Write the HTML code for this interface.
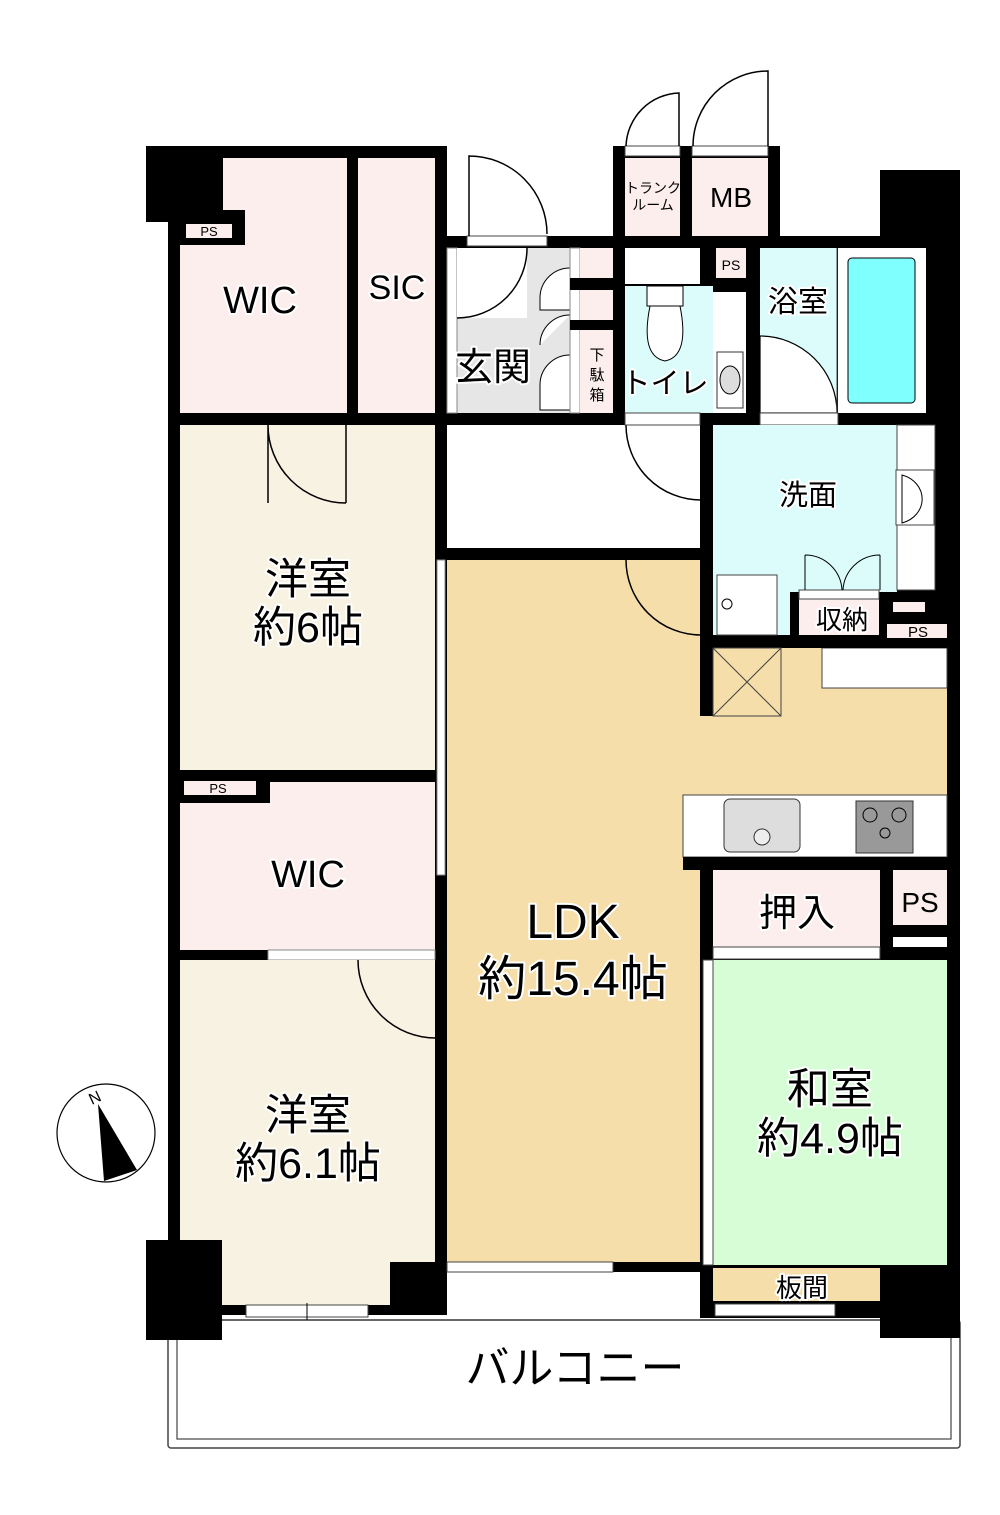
<!DOCTYPE html>
<html><head><meta charset="utf-8"><style>
html,body{margin:0;padding:0;background:#fff}
svg{display:block}
text{font-family:"Liberation Sans","Noto Sans CJK JP",sans-serif;fill:#000;paint-order:stroke;stroke:#fff;stroke-width:4px;stroke-linejoin:round}
.t{stroke:none}
</style></head><body>
<svg width="1000" height="1515" viewBox="0 0 1000 1515" xmlns="http://www.w3.org/2000/svg">
<!-- balcony -->
<rect x="168" y="1320" width="792" height="128" fill="#fff" stroke="#444" stroke-width="1.5" rx="3"/>
<rect x="177" y="1320" width="774" height="119" fill="none" stroke="#444" stroke-width="1.2"/>
<!-- footprint -->
<polygon fill="#000" points="146,146 447,146 447,236 613,236 613,146 780,146 780,236 880,236 880,170 960,170 960,1338 880,1338 880,1318 700,1318 700,1272 447,1272 447,1315 222,1315 222,1340 146,1340 146,1240 168,1240 168,222 146,222"/>
<!-- WIC1 -->
<rect x="180" y="158" width="167" height="255" fill="#fdeeee"/>
<rect x="180" y="158" width="43" height="52" fill="#000"/>
<rect x="180" y="210" width="65" height="35" fill="#000"/>
<rect x="186" y="224" width="46" height="14" fill="#fdeeee"/>
<text class="t" x="209" y="236" font-size="13" text-anchor="middle">PS</text>
<text x="260" y="313" font-size="38" text-anchor="middle">WIC</text>
<!-- SIC -->
<rect x="358" y="158" width="77" height="255" fill="#fdeeee"/>
<text x="397" y="299" font-size="34" text-anchor="middle">SIC</text>
<!-- 洋室1 -->
<rect x="180" y="425" width="255" height="345" fill="#f8f2e2"/>
<path d="M268 425 v78 M268 425 a78 78 0 0 0 78 78 M346 425 v78" fill="none" stroke="#000" stroke-width="1.5"/>
<text x="308" y="594" font-size="43" text-anchor="middle">洋室</text>
<text x="308" y="642" font-size="43" text-anchor="middle">約6帖</text>
<rect x="437" y="560" width="8" height="315" fill="#fff" stroke="#888" stroke-width="1"/>
<!-- WIC2 -->
<rect x="180" y="782" width="255" height="168" fill="#fdeeee"/>
<rect x="180" y="775" width="90" height="28" fill="#000"/>
<rect x="184" y="781" width="72" height="14" fill="#fdeeee"/>
<text class="t" x="218" y="793" font-size="13" text-anchor="middle">PS</text>
<text x="308" y="887" font-size="38" text-anchor="middle">WIC</text>
<rect x="268" y="950" width="167" height="10" fill="#fff" stroke="#888"/>
<!-- 洋室2 -->
<polygon fill="#f8f2e2" points="180,960 435,960 435,1262 390,1262 390,1305 222,1305 222,1240 180,1240"/>
<path d="M358 960 a78 78 0 0 0 78 78 M436 960 v78" fill="none" stroke="#000" stroke-width="1.5"/>
<text x="308" y="1130" font-size="43" text-anchor="middle">洋室</text>
<text x="308" y="1178" font-size="43" text-anchor="middle">約6.1帖</text>
<rect x="246" y="1305" width="122" height="12" fill="#fff" stroke="#444"/>
<line x1="307" y1="1303" x2="307" y2="1320" stroke="#000"/>
<!-- LDK -->
<polygon fill="#f5deaa" points="447,560 700,560 700,648 947,648 947,795 683,795 683,857 700,857 700,1262 447,1262"/>
<rect x="700" y="648" width="13" height="68" fill="#000"/>
<rect x="713" y="648" width="68" height="68" fill="none" stroke="#444"/>
<path d="M713 648 L781 716 M781 648 L713 716" stroke="#444"/>
<rect x="822" y="648" width="125" height="40" fill="#fff" stroke="#444"/>
<path d="M626 560 a75 75 0 0 0 75 75" fill="none" stroke="#000" stroke-width="1.5"/>
<text x="573" y="938" font-size="48" text-anchor="middle">LDK</text>
<text x="573" y="995" font-size="48" text-anchor="middle">約15.4帖</text>
<rect x="447" y="1262" width="166" height="10" fill="#fff" stroke="#444"/>
<!-- kitchen -->
<rect x="683" y="795" width="264" height="62" fill="#fff" stroke="#444"/>
<rect x="724" y="799" width="76" height="53" rx="6" fill="#ddd" stroke="#333"/>
<circle cx="762" cy="837" r="8" fill="#eee" stroke="#333"/>
<rect x="856" y="801" width="57" height="52" fill="#999" stroke="#333"/>
<circle cx="870" cy="815" r="7" fill="none" stroke="#000"/><circle cx="899" cy="815" r="7" fill="none" stroke="#000"/><circle cx="885" cy="833" r="5" fill="none" stroke="#000"/>
<rect x="683" y="857" width="264" height="13" fill="#000"/>
<!-- 押入 PS -->
<rect x="713" y="870" width="167" height="80" fill="#fdeeee"/>
<rect x="713" y="947" width="167" height="12" fill="#fff" stroke="#444"/>
<text x="797" y="926" font-size="38" text-anchor="middle">押入</text>
<rect x="893" y="870" width="54" height="55" fill="#fdeeee"/>
<rect x="893" y="937" width="54" height="10" fill="#fff"/>
<text class="t" x="920" y="912" font-size="28" text-anchor="middle">PS</text>
<!-- 和室 -->
<rect x="713" y="960" width="234" height="305" fill="#d6fdd6"/>
<rect x="703" y="960" width="10" height="305" fill="#fff" stroke="#444"/>
<text x="830" y="1104" font-size="43" text-anchor="middle">和室</text>
<text x="830" y="1153" font-size="43" text-anchor="middle">約4.9帖</text>
<rect x="713" y="1268" width="167" height="33" fill="#f5deaa"/>
<text x="802" y="1297" font-size="26" text-anchor="middle">板間</text>
<rect x="715" y="1304" width="120" height="12" fill="#fff" stroke="#444"/>
<!-- corridor -->
<rect x="447" y="425" width="253" height="123" fill="#fff"/>
<path d="M626 425 a75 75 0 0 0 75 75" fill="none" stroke="#000" stroke-width="1.5"/>
<rect x="700" y="425" width="13" height="223" fill="#000"/>
<!-- entrance -->
<rect x="447" y="248" width="123" height="165" fill="#e6e6e6"/>
<rect x="447" y="248" width="10" height="165" fill="#fff" stroke="#888"/>
<rect x="457" y="248" width="70" height="70" fill="#fff"/>
<path d="M527 248 a70 70 0 0 1 -70 70" fill="none" stroke="#000" stroke-width="1.5"/>
<path d="M570 268 a30 30 0 0 0 -30 30 v12 h30 M570 315 a30 30 0 0 0 -30 30 M570 355 a30 30 0 0 0 -30 30 v25 h30" fill="#fff" stroke="#000" stroke-width="1"/>
<rect x="570" y="248" width="10" height="165" fill="#fff" stroke="#888"/>
<rect x="580" y="248" width="33" height="30" fill="#fdeeee"/>
<rect x="580" y="290" width="33" height="30" fill="#fdeeee"/>
<rect x="580" y="330" width="33" height="83" fill="#fdeeee"/>
<rect x="570" y="278" width="43" height="12" fill="#000"/>
<rect x="570" y="320" width="43" height="10" fill="#000"/>
<text x="493" y="380" font-size="38" text-anchor="middle">玄関</text>
<text class="t" x="597" y="360" font-size="15" text-anchor="middle">下</text>
<text class="t" x="597" y="380" font-size="15" text-anchor="middle">駄</text>
<text class="t" x="597" y="400" font-size="15" text-anchor="middle">箱</text>
<rect x="467" y="236" width="80" height="10" fill="#fff" stroke="#444"/>
<path d="M469 236 v-80 a78 78 0 0 1 78 78" fill="none" stroke="#000" stroke-width="1.5"/>
<rect x="580" y="413" width="33" height="12" fill="#000"/>
<!-- toilet -->
<rect x="625" y="248" width="75" height="36" fill="#fff"/>
<rect x="625" y="286" width="88" height="127" fill="#dcfcfc"/>
<rect x="713" y="292" width="33" height="121" fill="#fff"/>
<rect x="647" y="286" width="36" height="20" fill="#fff" stroke="#000"/>
<path d="M650 306 q-10 50 15 55 q25 -5 15 -55z" fill="#fff" stroke="#000"/>
<rect x="717" y="352" width="26" height="56" fill="#fff" stroke="#333"/>
<ellipse cx="730" cy="380" rx="10" ry="14" fill="#ddd" stroke="#000"/>
<text x="665" y="393" font-size="29" text-anchor="middle">トイレ</text>
<rect x="713" y="248" width="35" height="35" fill="#000"/>
<rect x="716" y="248" width="30" height="30" fill="#fdeeee"/>
<text class="t" x="731" y="270" font-size="14" text-anchor="middle">PS</text>
<rect x="625" y="413" width="75" height="12" fill="#fff" stroke="#444"/>
<!-- bath -->
<rect x="760" y="248" width="77" height="165" fill="#dcfcfc"/>
<rect x="838" y="248" width="88" height="165" fill="#fff"/>
<rect x="848" y="258" width="67" height="145" rx="4" fill="#80ffff" stroke="#000"/>
<path d="M760 336 a77 77 0 0 1 77 77 L760 413 z" fill="#fff" stroke="#000" stroke-width="1.2"/>
<line x1="837" y1="248" x2="837" y2="413" stroke="#444"/>
<text x="798" y="312" font-size="30" text-anchor="middle">浴室</text>
<rect x="760" y="413" width="78" height="12" fill="#fff" stroke="#444"/>
<!-- washroom -->
<rect x="713" y="425" width="184" height="210" fill="#dcfcfc"/>
<rect x="897" y="425" width="38" height="165" fill="#fff" stroke="#444"/>
<rect x="896" y="470" width="38" height="55" fill="#fff" stroke="#444"/>
<path d="M902 475 a28 25 0 0 1 0 48z" fill="#fff" stroke="#000"/>
<rect x="717" y="575" width="60" height="60" fill="#fff" stroke="#444"/>
<circle cx="727" cy="604" r="5" fill="#fff" stroke="#000"/>
<rect x="790" y="592" width="157" height="56" fill="#000"/>
<rect x="799" y="597" width="80" height="38" fill="#fdeeee"/>
<rect x="799" y="590" width="80" height="9" fill="#fff" stroke="#444"/>
<path d="M805 555 v35 M880 555 v35 M805 555 a37 37 0 0 1 37 35 M880 555 a37 37 0 0 0 -37 35" fill="none" stroke="#000"/>
<text x="842" y="629" font-size="26" text-anchor="middle">収納</text>
<rect x="893" y="602" width="32" height="10" fill="#fdeeee"/>
<rect x="887" y="624" width="60" height="14" fill="#fdeeee"/>
<text class="t" x="918" y="637" font-size="15" text-anchor="middle">PS</text>
<text x="808" y="505" font-size="29" text-anchor="middle">洗面</text>
<!-- trunk / MB -->
<rect x="625" y="158" width="55" height="78" fill="#fdeeee"/>
<rect x="692" y="158" width="76" height="78" fill="#fdeeee"/>
<rect x="625" y="146" width="55" height="10" fill="#fff" stroke="#444"/>
<rect x="692" y="146" width="76" height="10" fill="#fff" stroke="#444"/>
<path d="M626 146 a55 55 0 0 1 53 -53 v53" fill="none" stroke="#000" stroke-width="1.5"/>
<path d="M693 146 a75 75 0 0 1 75 -75 v75" fill="none" stroke="#000" stroke-width="1.5"/>
<text class="t" x="653" y="193" font-size="14" text-anchor="middle">トランク</text>
<text class="t" x="653" y="210" font-size="14" text-anchor="middle">ルーム</text>
<text class="t" x="731" y="207" font-size="28" text-anchor="middle">MB</text>
<!-- balcony text -->
<text x="575" y="1383" font-size="44" text-anchor="middle">バルコニー</text>
<!-- compass -->
<circle cx="106" cy="1133" r="49" fill="#fff" stroke="#000" stroke-width="1.2"/>
<polygon points="98,1104 137,1170 104,1181" fill="#000"/>
<text class="t" x="95" y="1103" font-size="16" font-family="Liberation Serif" transform="rotate(-25 95 1098)" text-anchor="middle">N</text>
</svg>
</body></html>
